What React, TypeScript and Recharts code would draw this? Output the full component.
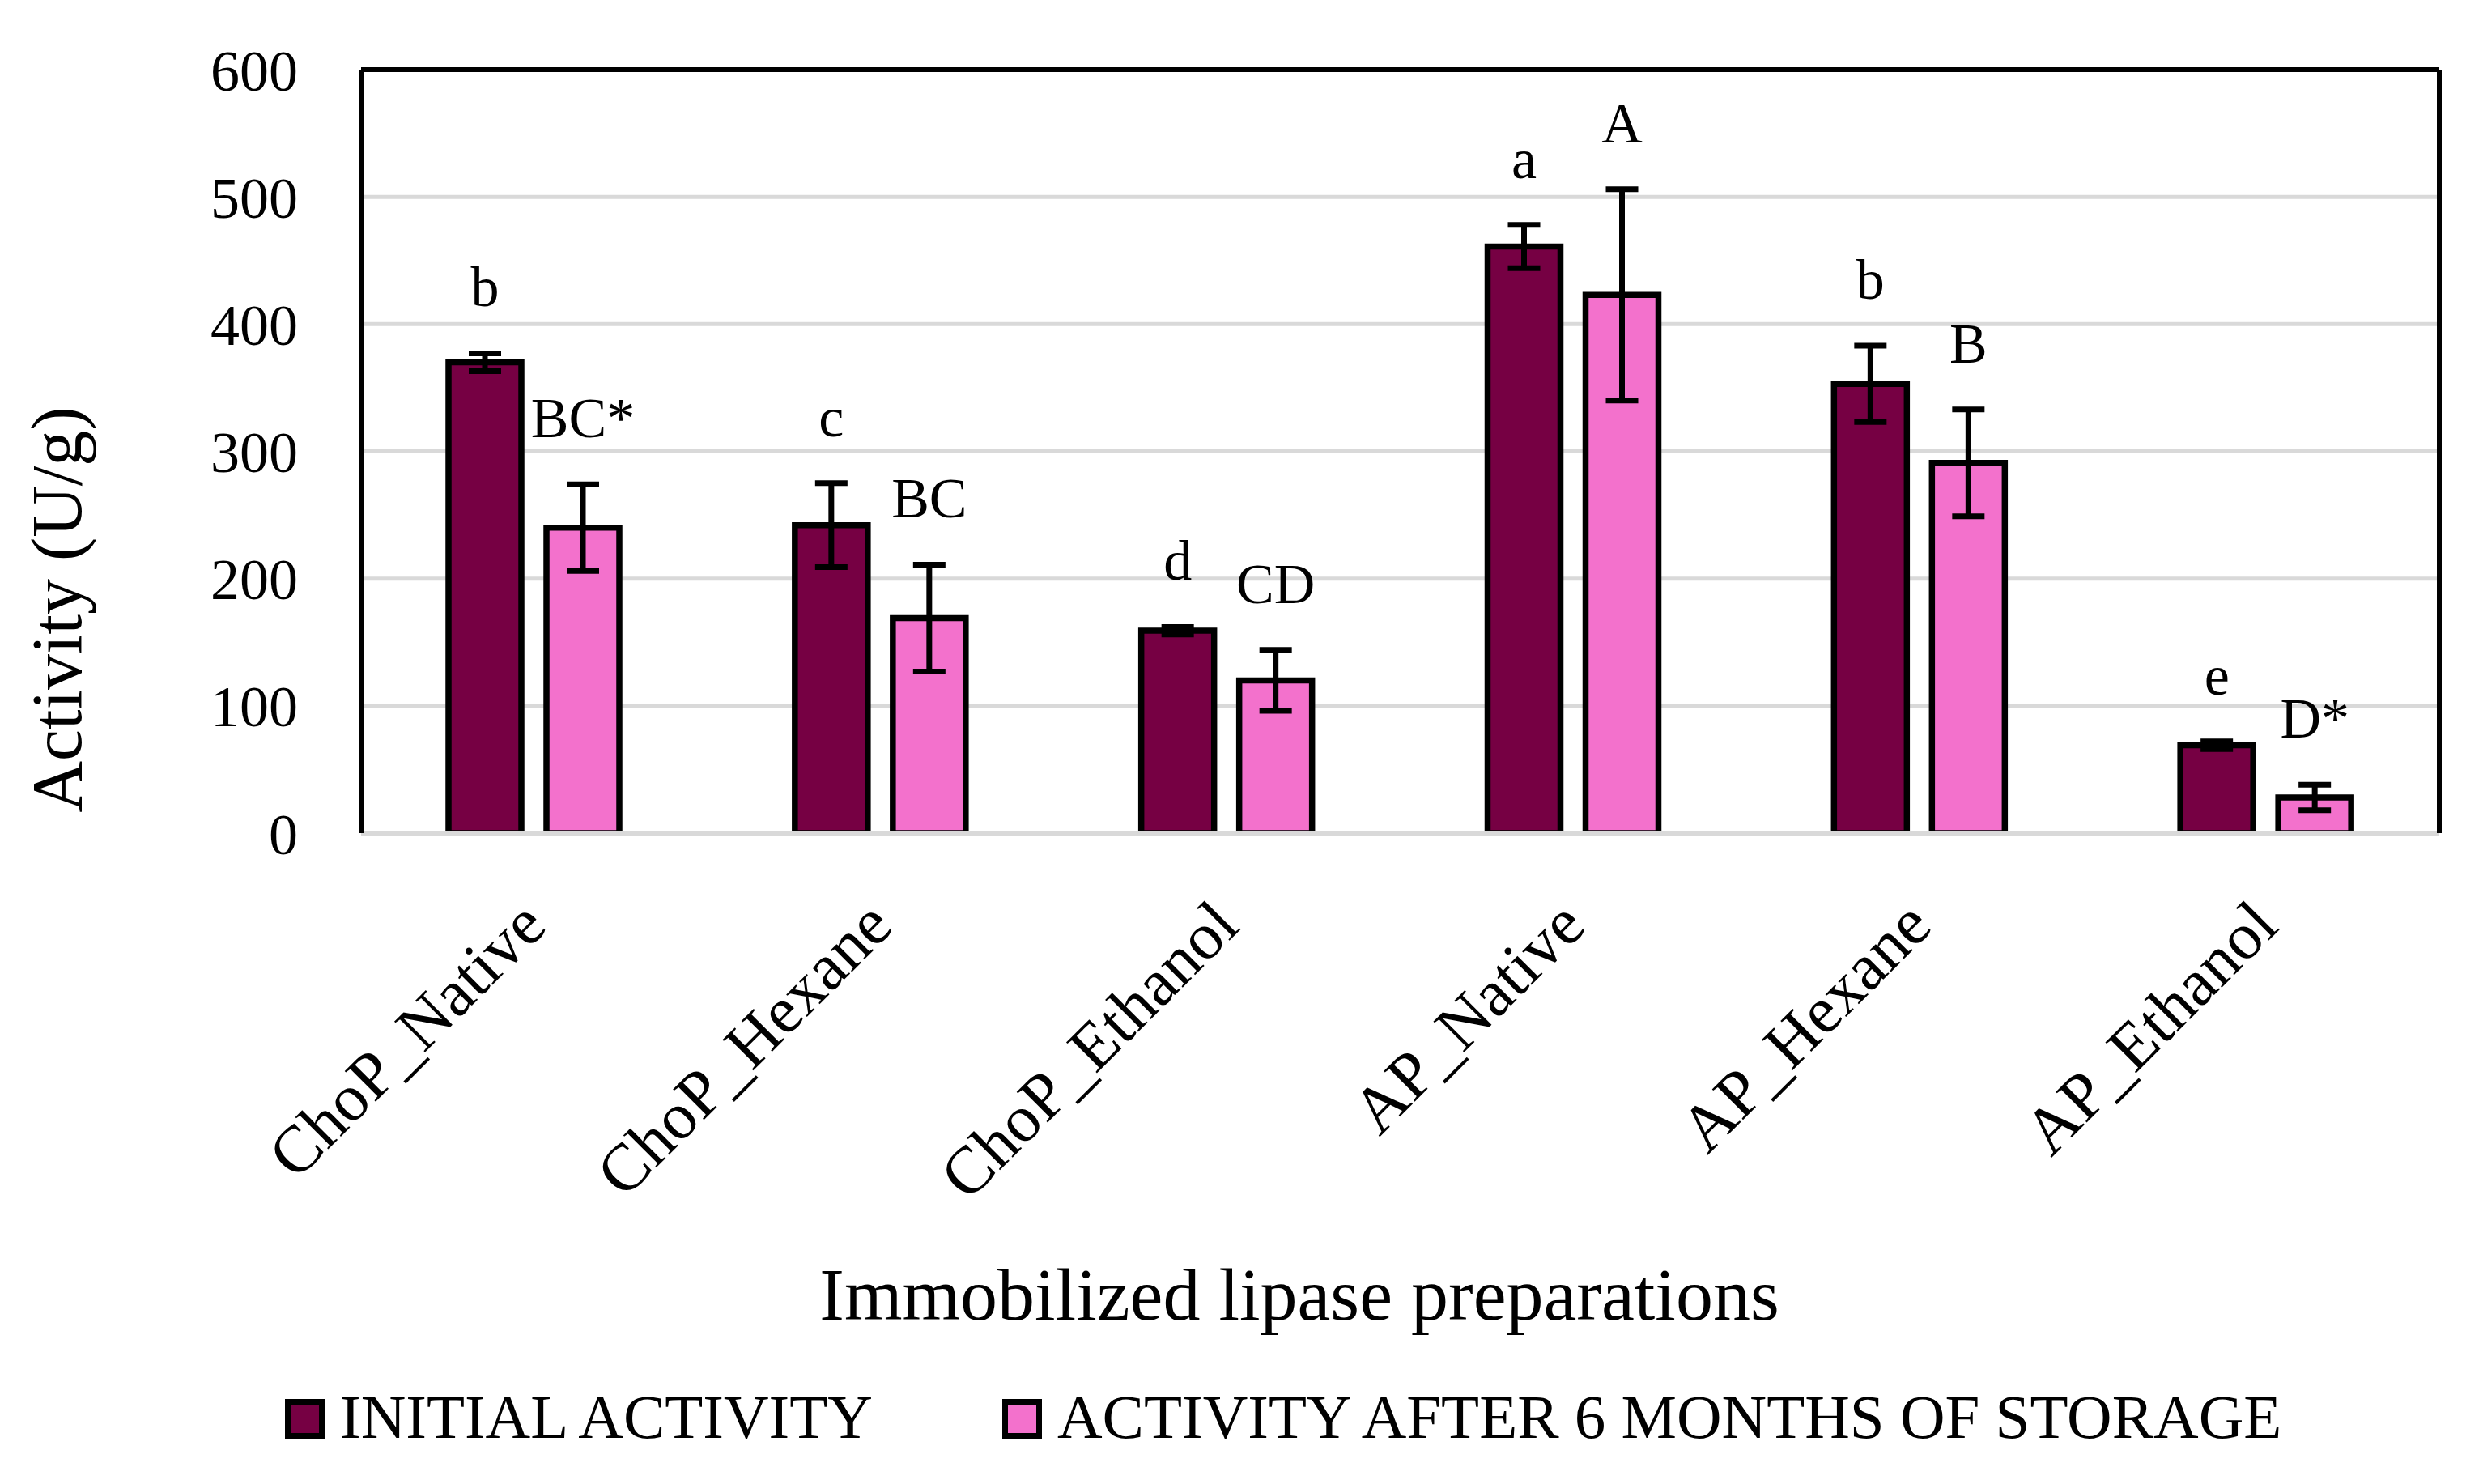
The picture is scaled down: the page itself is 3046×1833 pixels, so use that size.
import React from 'react';
import { BarChart, Bar, XAxis, YAxis, CartesianGrid, ErrorBar, LabelList, Legend } from 'recharts';

const categories = ['ChoP_Native', 'ChoP_Hexane', 'ChoP_Ethanol', 'AP_Native', 'AP_Hexane', 'AP_Ethanol'];
const initialActivity = [370, 242, 159, 461, 353, 69];
const initialError = [7, 33, 3, 17, 30, 3];
const storedActivity = [240, 169, 120, 423, 291, 28];
const storedError = [34, 42, 24, 83, 42, 10];
const initialLetters = ['b', 'c', 'd', 'a', 'b', 'e'];
const storedLetters = ['BC*', 'BC', 'CD', 'A', 'B', 'D*'];
const yTicks = [0, 100, 200, 300, 400, 500, 600];
const seriesNames = ['INITIAL ACTIVITY', 'ACTIVITY AFTER 6 MONTHS OF STORAGE'];
const seriesColors = ['#760043', '#f371cc'];

const data = categories.map((name, i) => ({
  name,
  initial: initialActivity[i],
  initialErr: initialError[i],
  initialLetter: initialLetters[i],
  stored: storedActivity[i],
  storedErr: storedError[i],
  storedLetter: storedLetters[i],
}));

const FONT = '"Liberation Serif", "Times New Roman", serif';
const W = 3030;
const H = 1817;
const X_AXIS_H = 100;

const makeLetter = (vals: number[], errs: number[]) => (props: any) => {
  const vb = props.viewBox && props.viewBox.width !== undefined ? props.viewBox : props;
  const x = Number(vb.x);
  const y = Number(vb.y);
  const width = Number(vb.width);
  const height = Number(vb.height);
  const i = props.index;
  const v = vals[i];
  const e = errs[i];
  const ppu = v ? height / v : 0;
  const errTop = y - e * ppu;
  return (
    <text x={x + width / 2} y={errTop - 58} textAnchor="middle" fontFamily={FONT} fontSize={70} fill="#000">
      {props.value}
    </text>
  );
};

const XTick = (props: any) => {
  const { x, y, payload } = props;
  const ax = x + 18;
  const ay = y + 118;
  return (
    <text x={ax} y={ay} transform={`rotate(-45, ${ax}, ${ay})`} textAnchor="end" fontFamily={FONT} fontSize={82} fill="#000">
      {payload.value}
    </text>
  );
};

const legendX = [344, 1230];
const renderLegend = () => (
  <svg width={W} height={H} style={{ position: 'absolute', left: 0, top: 0, overflow: 'visible', pointerEvents: 'none' }}>
    {seriesNames.map((name, i) => (
      <g key={name}>
        <rect x={legendX[i] + 3.5} y={1723.5} width={42} height={42} fill={seriesColors[i]} stroke="#000" strokeWidth={7} />
        <text x={legendX[i] + 68} y={1768} fontFamily={FONT} fontSize={77} fill="#000">
          {name}
        </text>
      </g>
    ))}
  </svg>
);

export default function App() {
  return (
    <div style={{ width: W, height: H, background: '#fff' }}>
      <BarChart
        width={W}
        height={H}
        data={data}
        margin={{ top: 76, right: 23, left: 0, bottom: H - 1021 - X_AXIS_H }}
        barGap={31}
      >
        <CartesianGrid vertical={false} stroke="#d9d9d9" strokeWidth={5} />
        <XAxis
          dataKey="name"
          height={X_AXIS_H}
          tickLine={false}
          tickSize={0}
          tickMargin={0}
          axisLine={{ stroke: '#d9d9d9', strokeWidth: 6 }}
          tick={<XTick />}
          interval={0}
          label={{
            value: 'Immobilized lipase preparations',
            content: () => (
              <text x={1597} y={1622} textAnchor="middle" fontFamily={FONT} fontSize={92} fill="#000">
                Immobilized lipase preparations
              </text>
            ),
          }}
        />
        <XAxis xAxisId="top" dataKey="name" orientation="top" height={2} tick={false} tickLine={false} axisLine={{ stroke: '#000', strokeWidth: 6 }} />
        <YAxis
          width={438}
          domain={[0, 600]}
          ticks={yTicks}
          tickLine={false}
          tickSize={0}
          tickMargin={78}
          axisLine={{ stroke: '#000', strokeWidth: 6 }}
          tick={{ fontSize: 72, fill: '#000', fontFamily: FONT }}
          label={{
            value: 'Activity (U/g)',
            content: () => (
              <text x={92} y={745} transform="rotate(-90, 92, 745)" textAnchor="middle" fontFamily={FONT} fontSize={88} fill="#000">
                Activity (U/g)
              </text>
            ),
          }}
        />
        <YAxis yAxisId="right" orientation="right" width={2} domain={[0, 600]} tick={false} tickLine={false} axisLine={{ stroke: '#000', strokeWidth: 6 }} />
        <Legend wrapperStyle={{ left: 0, top: 0, width: 0, height: 0, overflow: 'visible' }} content={renderLegend} />
        <Bar dataKey="initial" name={seriesNames[0]} fill={seriesColors[0]} stroke="#000" strokeWidth={7.5} barSize={90} isAnimationActive={false}>
          <ErrorBar dataKey="initialErr" direction="y" width={20} stroke="#000" strokeWidth={7} />
          <LabelList dataKey="initialLetter" content={makeLetter(initialActivity, initialError)} />
        </Bar>
        <Bar dataKey="stored" name={seriesNames[1]} fill={seriesColors[1]} stroke="#000" strokeWidth={7.5} barSize={90} isAnimationActive={false}>
          <ErrorBar dataKey="storedErr" direction="y" width={20} stroke="#000" strokeWidth={7} />
          <LabelList dataKey="storedLetter" content={makeLetter(storedActivity, storedError)} />
        </Bar>
      </BarChart>
    </div>
  );
}
